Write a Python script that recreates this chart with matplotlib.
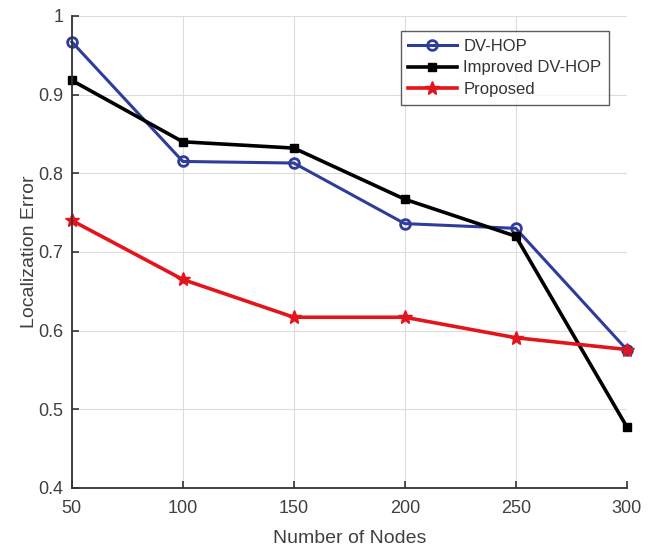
import matplotlib
matplotlib.use("Agg")
from matplotlib import pyplot as plt

## data
nodes = [50, 100, 150, 200, 250, 300]
dv_hop = [0.967, 0.815, 0.813, 0.736, 0.730, 0.576]
improved_dv_hop = [0.918, 0.840, 0.832, 0.767, 0.720, 0.478]
proposed = [0.740, 0.665, 0.617, 0.617, 0.591, 0.576]

x_ticks = [50, 100, 150, 200, 250, 300]
y_ticks = [0.4, 0.5, 0.6, 0.7, 0.8, 0.9, 1.0]
y_tick_labels = ["0.4", "0.5", "0.6", "0.7", "0.8", "0.9", "1"]

plt.rcParams['font.family'] = ['Liberation Sans', 'DejaVu Sans']

fig = plt.figure(figsize=(6.59, 5.48), dpi=100)
ax = fig.add_axes([0.109, 0.1095, 0.842, 0.8615])

ax.plot(nodes, dv_hop, color="#2e3d9c", lw=2.2, marker="o", ms=7,
        mfc="none", mew=2, label="DV-HOP", clip_on=False)
ax.plot(nodes, improved_dv_hop, color="black", lw=2.6, marker="s", ms=6,
        mfc="black", mec="black", label="Improved DV-HOP", clip_on=False)
ax.plot(nodes, proposed, color="#e3141c", lw=2.6, marker="*", ms=10,
        label="Proposed", clip_on=False)

ax.set_xlim(50, 300)
ax.set_ylim(0.4, 1.0)
ax.set_xticks(x_ticks)
ax.set_yticks(y_ticks)
ax.set_yticklabels(y_tick_labels)
ax.grid(True, color="#dcdcdc", lw=0.8)
ax.set_axisbelow(True)

for side in ["top", "right"]:
    ax.spines[side].set_visible(False)
for side in ["left", "bottom"]:
    ax.spines[side].set_color("#333333")
    ax.spines[side].set_linewidth(1.3)
ax.tick_params(direction="in", length=5, width=1.2, colors="#333333",
               labelsize=13, labelcolor="#404040")
ax.tick_params(axis="x", pad=9)
ax.tick_params(axis="y", pad=6)

ax.set_xlabel("Number of Nodes", fontsize=14, color="#404040", labelpad=9)
ax.set_ylabel("Localization Error", fontsize=14, color="#404040", labelpad=0)

leg = ax.legend(loc="upper right", bbox_to_anchor=(0.983, 0.985), fontsize=12,
                frameon=True, fancybox=False, edgecolor="#333333",
                handlelength=2.9, borderpad=0.45, labelspacing=0.4,
                handletextpad=0.4)
leg.get_frame().set_linewidth(1.0)
for t in leg.get_texts():
    t.set_color("#333333")

fig.savefig("out.png", dpi=100)
